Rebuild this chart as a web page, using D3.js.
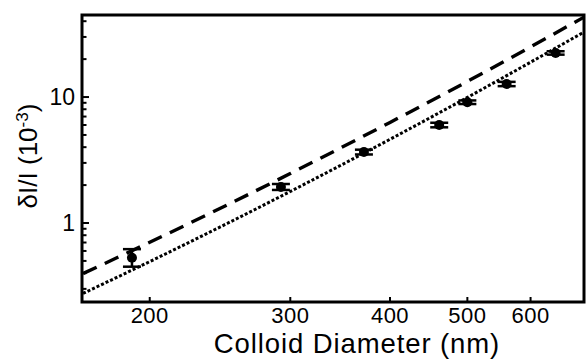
<!DOCTYPE html>
<html lang="en">
<head>
	<meta charset="UTF-8">
	<title>Colloid diameter</title>
	<style>
		body { margin: 0; background: #fff; }
		text { font-family: "Liberation Sans", Arial, sans-serif; fill: #000; }
	</style>
	<script src="https://d3js.org/d3.v7.min.js"></script>
</head>
<body>
	<script type="text/javascript">
		// measured points
		const diameters = [190, 292, 371, 461, 500, 560, 645];
		const signal = [0.53, 1.93, 3.66, 6.0, 9.1, 12.7, 22.4];
		const errLow = [0.45, 1.83, 3.50, 5.75, 8.8, 12.2, 21.7];
		const errHigh = [0.62, 2.04, 3.82, 6.25, 9.4, 13.2, 23.1];

		// model curves, sampled off the figure
		const curveX = [165, 200, 250, 300, 400, 500, 600, 700];
		const dashedY = [0.397, 0.703, 1.39, 2.47, 6.29, 13.3, 25.0, 43.1];
		const dottedY = [0.276, 0.494, 0.991, 1.78, 4.62, 9.93, 18.9, 32.8];

		const xTicks = [200, 300, 400, 500, 600];
		const yMajor = [1, 10];
		const yMinor = [0.3, 0.4, 0.5, 0.6, 0.7, 0.8, 0.9, 2, 3, 4, 5, 6, 7, 8, 9, 20, 30, 40];

		let width = 586;
		let height = 360;
		const pLeft = 82, pRight = 584, pTop = 15, pBottom = 302;

		const svg = d3.select("body").append("svg")
			.attr("width", width)
			.attr("height", height);

		const x = d3.scaleLog().domain([164.5, 700]).range([pLeft, pRight]);
		const y = d3.scaleLog().domain([0.236, 44.8]).range([pBottom, pTop]);

		svg.append("clipPath").attr("id", "plot")
			.append("rect")
			.attr("x", pLeft).attr("y", pTop)
			.attr("width", pRight - pLeft).attr("height", pBottom - pTop);

		const line = d3.line()
			.x(d => x(d[0]))
			.y(d => y(d[1]))
			.curve(d3.curveMonotoneX);

		svg.append("path")
			.datum(curveX.map((d, i) => [d, dashedY[i]]))
			.attr("d", line)
			.attr("clip-path", "url(#plot)")
			.style("fill", "none")
			.style("stroke", "black")
			.style("stroke-width", 3.4)
			.style("stroke-dasharray", "15,9");

		svg.append("path")
			.datum(curveX.map((d, i) => [d, dottedY[i]]))
			.attr("d", line)
			.attr("clip-path", "url(#plot)")
			.style("fill", "none")
			.style("stroke", "black")
			.style("stroke-width", 3)
			.style("stroke-dasharray", "3,2");

		// error bars + dots
		const pts = diameters.map((d, i) => ({ d: d, v: signal[i], lo: errLow[i], hi: errHigh[i] }));
		const g = svg.selectAll(".pt").data(pts).join("g").attr("class", "pt");
		g.append("line")
			.attr("x1", d => x(d.d)).attr("x2", d => x(d.d))
			.attr("y1", d => y(d.lo)).attr("y2", d => y(d.hi))
			.style("stroke", "black").style("stroke-width", 2.5);
		g.append("line")
			.attr("x1", d => x(d.d) - 9).attr("x2", d => x(d.d) + 9)
			.attr("y1", d => y(d.lo)).attr("y2", d => y(d.lo))
			.style("stroke", "black").style("stroke-width", 2.5);
		g.append("line")
			.attr("x1", d => x(d.d) - 9).attr("x2", d => x(d.d) + 9)
			.attr("y1", d => y(d.hi)).attr("y2", d => y(d.hi))
			.style("stroke", "black").style("stroke-width", 2.5);
		g.append("circle")
			.attr("cx", d => x(d.d)).attr("cy", d => y(d.v))
			.attr("r", 5)
			.style("fill", "black");

		// ticks, pointing inward
		svg.selectAll(".xt").data(xTicks).join("line")
			.attr("x1", d => x(d)).attr("x2", d => x(d))
			.attr("y1", pBottom).attr("y2", pBottom - 5)
			.style("stroke", "black").style("stroke-width", 2);
		svg.selectAll(".ymaj").data(yMajor).join("line")
			.attr("x1", pLeft).attr("x2", pLeft + 7)
			.attr("y1", d => y(d)).attr("y2", d => y(d))
			.style("stroke", "black").style("stroke-width", 2);
		svg.selectAll(".ymin").data(yMinor).join("line")
			.attr("x1", pLeft).attr("x2", pLeft + 4.5)
			.attr("y1", d => y(d)).attr("y2", d => y(d))
			.style("stroke", "black").style("stroke-width", 2);

		// frame
		svg.append("rect")
			.attr("x", pLeft).attr("y", pTop)
			.attr("width", pRight - pLeft).attr("height", pBottom - pTop)
			.style("fill", "none")
			.style("stroke", "black")
			.style("stroke-width", 3);

		// tick labels
		svg.selectAll(".xl").data(xTicks).join("text")
			.attr("x", d => x(d)).attr("y", 323)
			.attr("text-anchor", "middle")
			.style("font-size", "22px")
			.style("letter-spacing", "0.5px")
			.text(d => d);
		svg.selectAll(".yl").data(yMajor).join("text")
			.attr("x", 75).attr("y", d => y(d) + 8)
			.attr("text-anchor", "end")
			.style("font-size", "23px")
			.text(d => d);

		svg.append("text")
			.attr("x", 357).attr("y", 353)
			.attr("text-anchor", "middle")
			.style("font-size", "27.5px")
			.style("letter-spacing", "0.9px")
			.text("Colloid Diameter (nm)");

		const yl = svg.append("text")
			.attr("transform", "translate(37,156) rotate(-90)")
			.attr("text-anchor", "middle")
			.style("font-size", "26px");
		yl.append("tspan").text("δI/I (10");
		yl.append("tspan").attr("dy", -9).style("font-size", "17px").text("-3");
		yl.append("tspan").attr("dy", 9).text(")");
	</script>
</body>
</html>
